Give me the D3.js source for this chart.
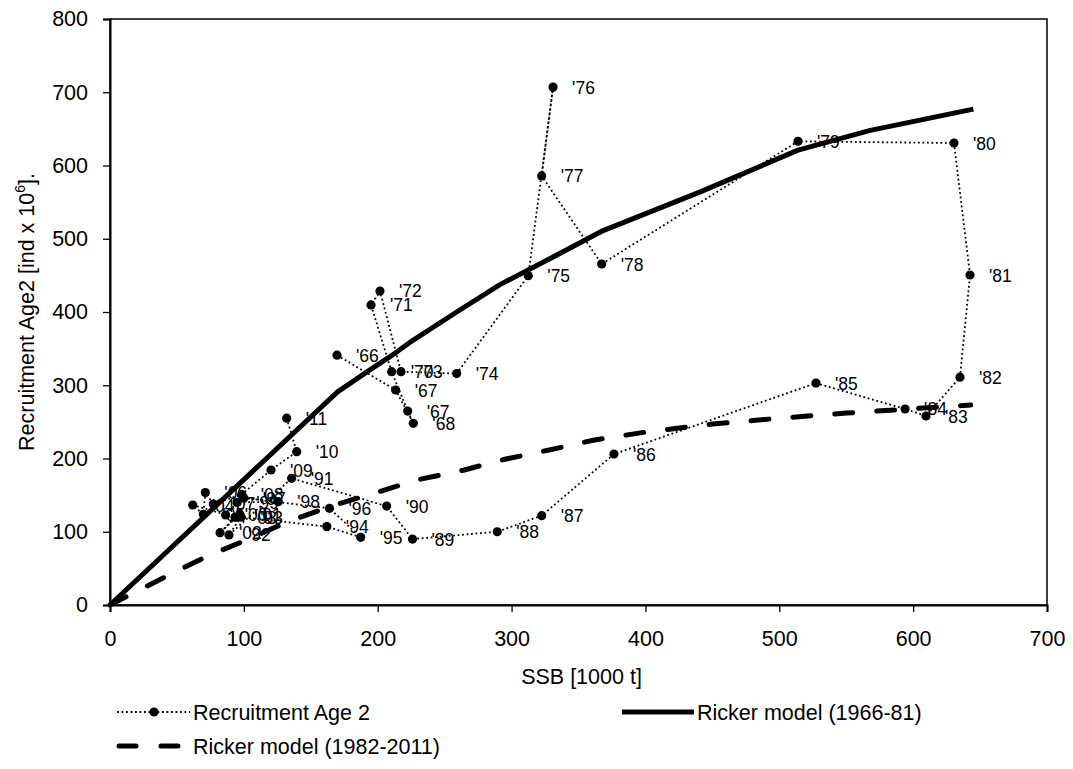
<!DOCTYPE html>
<html><head><meta charset="utf-8">
<script src="https://cdn.jsdelivr.net/npm/d3@7"></script>
<style>
body{margin:0;background:#fff;}
text{font-family:"Liberation Sans",Arial,Helvetica,sans-serif;fill:#000;}
</style>
</head><body>
<svg id="c" width="1073" height="769"></svg>
<script>
// Observed stock-recruitment pairs, in year order 1966-2011
const pointLabels = ["'66","'67","'68","'67","'70","'71","'72","'73","'74","'75","'76","'77","'78","'79","'80","'81","'82","'83","'84","'85","'86","'87","'88","'89","'90","'91","'92","'93","'94","'95","'96","'97","'98","'99","'00","'01","'02","'03","'04","'05","'06","'07","'08","'09","'10","'11"];
const ssb = [169.6,213.4,226.6,222.4,210.4,195,201.7,217.4,259,312.5,331,322.5,367.3,514,630.5,642.5,635,609.6,594,527.4,376.5,322.5,289.3,226,206.7,135.7,88.9,98,162,187.3,164,100,125.7,95,86.4,97,82.2,93.4,61.8,69.7,71.2,77.2,98.4,120.3,139.5,132];
const recruitment = [341,293.5,248,264.8,318.5,409.6,428.7,318.5,316,449.6,707,585.7,465.5,633,630.7,450.5,311,258,267.6,303,206,122,100,90,135,173,95.6,120,107,92.4,132,146,141,140,122.9,124,98.7,119.7,136.5,123.8,153.5,137.9,151,184.3,209.3,255];

// Ricker model (1966-81) curve
const rickerA_ssb = [0,170,195,210,226,259,291,312,331,367,441,514,568,645];
const rickerA_rec = [0,291,322,340,361,400,437,457,475,510,564,621,648,677];

// Ricker model (1982-2011) curve
const rickerB_ssb = [0,44,73,105,133,167,198,230,264,295,329,361,400,450,500,550,600,643];
const rickerB_rec = [0,41,67,91,114,136,153,171,184,199,212,225,236,247,255,262,268,273];

const xTicks = [0,100,200,300,400,500,600,700];
const yTicks = [0,100,200,300,400,500,600,700,800];
const legendNames = ["Recruitment Age 2","Ricker model (1966-81)","Ricker model (1982-2011)"];

const FS = 21.5;
const svg = d3.select("#c");
const L=110, R=1047, T=19, B=605;
const x = d3.scaleLinear().domain([0,700]).range([L,R]);
const y = d3.scaleLinear().domain([0,800]).range([B,T]);

// frame
svg.append("rect").attr("x",L).attr("y",T).attr("width",R-L).attr("height",B-T)
  .attr("fill","none").attr("stroke","#000").attr("stroke-width",1.5);

// axes
const ax = svg.append("g").attr("transform",`translate(0,${B})`)
  .call(d3.axisBottom(x).tickValues(xTicks).tickSize(7).tickPadding(19).tickFormat(d3.format("d")));
const ay = svg.append("g").attr("transform",`translate(${L},0)`)
  .call(d3.axisLeft(y).tickValues(yTicks).tickSize(7).tickPadding(15).tickFormat(d3.format("d")));
[ax,ay].forEach(g=>{
  g.select(".domain").attr("stroke","#000").attr("stroke-width",2);
  g.selectAll(".tick line").attr("stroke","#000").attr("stroke-width",1.3);
  g.selectAll(".tick text").attr("font-size",FS).attr("font-family","Liberation Sans, Arial, sans-serif").attr("fill","#000");
});

// axis titles
svg.append("text").attr("x",(L+R)/2+3).attr("y",684).attr("text-anchor","middle")
  .attr("font-size",FS).text("SSB [1000 t]");
const yt = svg.append("text").attr("transform",`translate(34,${(T+B)/2}) rotate(-90)`)
  .attr("text-anchor","middle").attr("font-size",FS);
yt.append("tspan").text("Recruitment Age2 [ind x 10");
yt.append("tspan").attr("font-size",14).attr("dy",-9).text("6");
yt.append("tspan").attr("dy",9).text("].");

// curves
const lineGen = d3.line().x(d=>x(d[0])).y(d=>y(d[1]));
const curveA = rickerA_ssb.map((s,i)=>[s,rickerA_rec[i]]);
const curveB = rickerB_ssb.map((s,i)=>[s,rickerB_rec[i]]);
svg.append("path").datum(curveA).attr("d",lineGen).attr("fill","none")
  .attr("stroke","#000").attr("stroke-width",5).attr("stroke-linejoin","round");
svg.append("path").datum(curveB).attr("d",lineGen).attr("fill","none")
  .attr("stroke","#000").attr("stroke-width",5).attr("stroke-linecap","round")
  .attr("stroke-dasharray","18,24");

// observed series
const pts = ssb.map((s,i)=>[s,recruitment[i]]);
svg.append("path").datum(pts).attr("d",lineGen).attr("fill","none")
  .attr("stroke","#000").attr("stroke-width",1.8).attr("stroke-dasharray","1.8,2.7");
svg.append("g").selectAll("circle").data(pts).join("circle")
  .attr("cx",d=>x(d[0])).attr("cy",d=>y(d[1])).attr("r",4.6).attr("fill","#000");
svg.append("g").selectAll("text").data(pts).join("text")
  .attr("x",d=>x(d[0])+19).attr("y",d=>y(d[1])+6.5).attr("font-size",17.5)
  .text((d,i)=>pointLabels[i]);

// legend
const lg = svg.append("g");
lg.append("line").attr("x1",117).attr("x2",190).attr("y1",712).attr("y2",712)
  .attr("stroke","#000").attr("stroke-width",1.8).attr("stroke-dasharray","1.8,2.7");
lg.append("circle").attr("cx",154).attr("cy",712).attr("r",4.6).attr("fill","#000");
lg.append("text").attr("x",193).attr("y",719.5).attr("font-size",FS).text(legendNames[0]);
lg.append("line").attr("x1",622).attr("x2",694).attr("y1",712).attr("y2",712)
  .attr("stroke","#000").attr("stroke-width",5);
lg.append("text").attr("x",697).attr("y",719.5).attr("font-size",FS).text(legendNames[1]);
lg.append("line").attr("x1",119).attr("x2",190).attr("y1",746).attr("y2",746)
  .attr("stroke","#000").attr("stroke-width",5).attr("stroke-linecap","round").attr("stroke-dasharray","17,25");
lg.append("text").attr("x",193).attr("y",753.5).attr("font-size",FS).text(legendNames[2]);
</script>
</body></html>
